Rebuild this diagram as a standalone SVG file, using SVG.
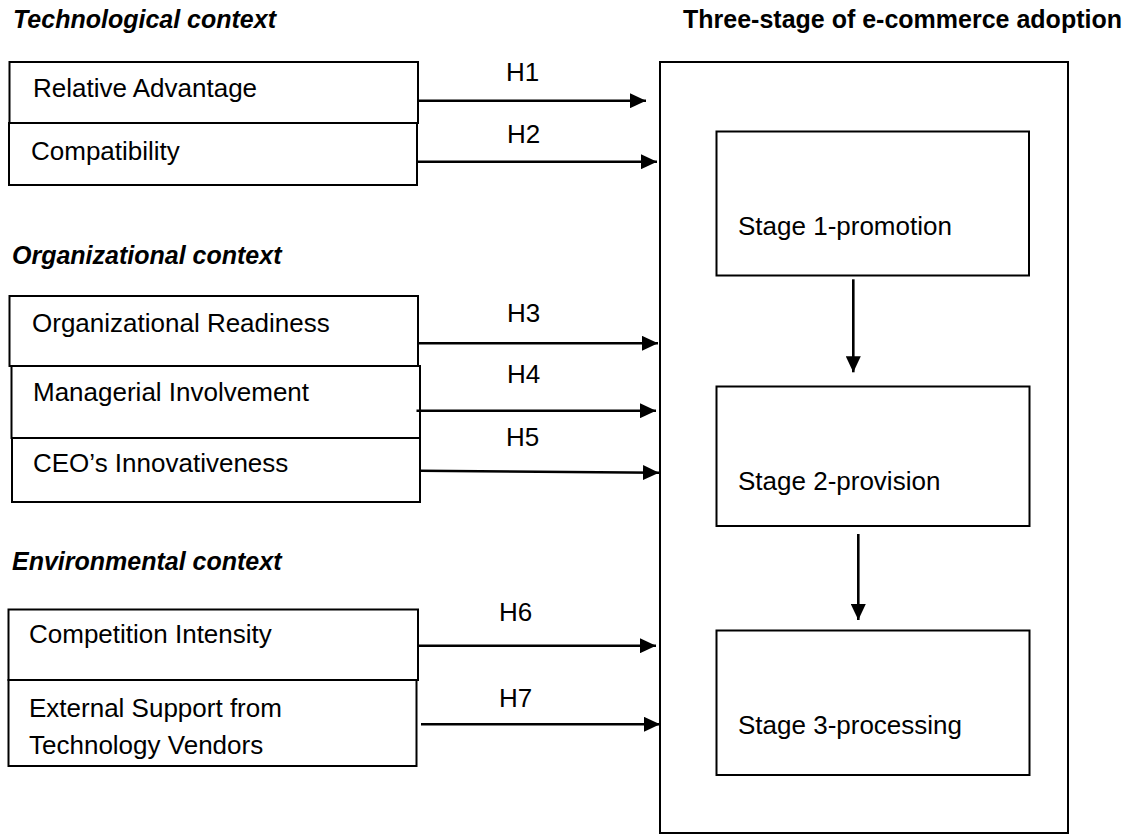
<svg xmlns="http://www.w3.org/2000/svg" width="1127" height="839" viewBox="0 0 1127 839">
<style>
.bx{fill:#fff;stroke:#000;stroke-width:2}
.t{font-family:"Liberation Sans",Arial,sans-serif;font-size:26px;fill:#000}
.h{font-family:"Liberation Sans",Arial,sans-serif;font-size:25px;font-weight:bold;fill:#000}
.hi{font-style:italic}
.c{stroke:#000;stroke-width:2.6;fill:none;marker-end:url(#ah)}
</style>
<defs>
<marker id="ah" markerUnits="userSpaceOnUse" markerWidth="16" markerHeight="15" refX="16" refY="7.5" orient="auto">
<path d="M0,0 L16,7.5 L0,15 z" fill="#000"/>
</marker>
</defs>
<rect width="1127" height="839" fill="#fff"/>
<text class="h hi" x="13" y="28">Technological context</text>
<text class="h hi" x="12" y="264">Organizational context</text>
<text class="h hi" x="12" y="570">Environmental context</text>
<text class="h" x="683" y="28">Three-stage of e-commerce adoption</text>

<g id="adoption"><rect class="bx" x="660" y="62" width="408" height="771"/></g>
<g id="ra"><rect class="bx" x="9.5" y="62" width="408.5" height="61"/><text class="t" x="33" y="97">Relative Advantage</text></g>
<g id="comp"><rect class="bx" x="9" y="123" width="408" height="62"/><text class="t" x="31" y="160">Compatibility</text></g>
<g id="or"><rect class="bx" x="9.5" y="296" width="408.5" height="70"/><text class="t" x="32" y="332">Organizational Readiness</text></g>
<g id="mi"><rect class="bx" x="11.5" y="366" width="408.5" height="72"/><text class="t" x="33" y="401">Managerial Involvement</text></g>
<g id="ceo"><rect class="bx" x="12" y="438" width="408" height="64"/><text class="t" x="33" y="472">CEO’s Innovativeness</text></g>
<g id="ci"><rect class="bx" x="8.5" y="609.5" width="409.5" height="70.5"/><text class="t" x="29" y="643">Competition Intensity</text></g>
<g id="es"><rect class="bx" x="8.5" y="680" width="408" height="86"/><text class="t" x="29" y="717">External Support from</text><text class="t" x="29" y="754">Technology Vendors</text></g>
<g id="s1"><rect class="bx" x="716.5" y="131.5" width="312.5" height="144"/><text class="t" x="738" y="235">Stage 1-promotion</text></g>
<g id="s2"><rect class="bx" x="716.5" y="386.5" width="313" height="139.5"/><text class="t" x="738" y="490">Stage 2-provision</text></g>
<g id="s3"><rect class="bx" x="716.5" y="630.5" width="313" height="144.5"/><text class="t" x="738" y="734">Stage 3-processing</text></g>

<g id="connectors">
<line class="c" x1="418" y1="100.7" x2="646" y2="100.7"/>
<line class="c" x1="417" y1="161.7" x2="657" y2="161.7"/>
<line class="c" x1="418" y1="343.3" x2="658" y2="343.3"/>
<line class="c" x1="416.5" y1="410.7" x2="656" y2="410.7"/>
<line class="c" x1="420" y1="470.7" x2="659" y2="472.7"/>
<line class="c" x1="418" y1="645.7" x2="656" y2="645.7"/>
<line class="c" x1="421" y1="724.3" x2="660" y2="724.3"/>
<line class="c" x1="853.3" y1="279.3" x2="853.3" y2="372.3"/>
<line class="c" x1="858.3" y1="534" x2="858.3" y2="620"/>
<text class="t" x="506" y="81">H1</text>
<text class="t" x="507" y="143">H2</text>
<text class="t" x="507" y="322">H3</text>
<text class="t" x="507" y="383">H4</text>
<text class="t" x="506" y="446">H5</text>
<text class="t" x="499" y="621">H6</text>
<text class="t" x="499" y="707">H7</text>
</g>
</svg>
